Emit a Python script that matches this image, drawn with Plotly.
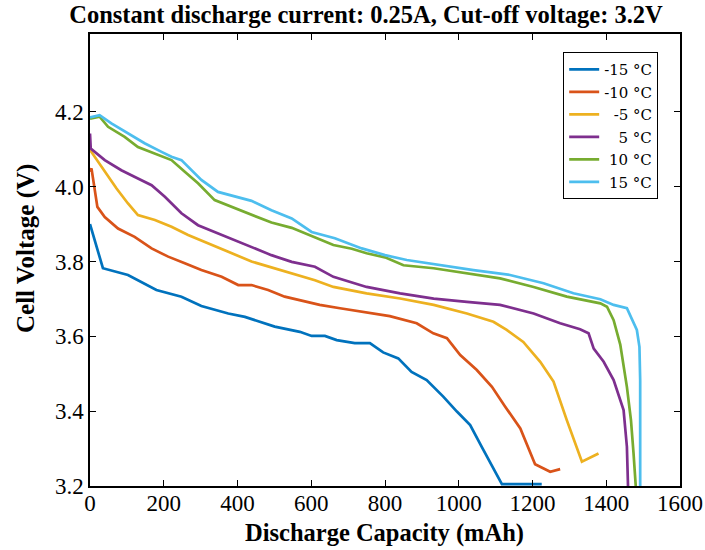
import plotly.graph_objects as go

# -15 °C
x_m15 = [0, 35, 103, 180, 248, 302, 375, 420, 501, 569, 601, 637, 669, 718, 759, 795, 836, 872, 913, 958, 995, 1031, 1062, 1117, 1225]
y_m15 = [3.900, 3.782, 3.764, 3.724, 3.706, 3.681, 3.661, 3.652, 3.626, 3.612, 3.601, 3.601, 3.590, 3.582, 3.582, 3.557, 3.541, 3.505, 3.483, 3.439, 3.399, 3.363, 3.305, 3.205, 3.205]
# -10 °C
x_m10 = [0, 4, 20, 40, 76, 121, 167, 212, 257, 302, 357, 402, 438, 483, 528, 574, 623, 678, 741, 813, 886, 931, 968, 1004, 1049, 1090, 1126, 1167, 1207, 1248, 1275]
y_m10 = [4.040, 4.049, 3.946, 3.919, 3.888, 3.866, 3.835, 3.813, 3.795, 3.777, 3.759, 3.737, 3.737, 3.724, 3.706, 3.695, 3.684, 3.675, 3.666, 3.654, 3.635, 3.608, 3.595, 3.550, 3.510, 3.465, 3.412, 3.354, 3.258, 3.238, 3.245]
# -5 °C
x_m5 = [0, 31, 72, 103, 130, 176, 221, 266, 320, 375, 438, 492, 547, 610, 660, 750, 841, 932, 1022, 1094, 1130, 1175, 1221, 1257, 1293, 1334, 1379]
y_m5 = [4.098, 4.053, 3.995, 3.955, 3.924, 3.911, 3.893, 3.871, 3.848, 3.826, 3.800, 3.784, 3.768, 3.750, 3.732, 3.715, 3.701, 3.684, 3.661, 3.639, 3.617, 3.585, 3.532, 3.479, 3.376, 3.265, 3.287]
# 5 °C
x_p5 = [0, 2, 40, 85, 130, 167, 203, 248, 293, 347, 393, 438, 492, 547, 610, 660, 750, 841, 932, 1022, 1112, 1203, 1275, 1329, 1352, 1366, 1393, 1420, 1447, 1456, 1459]
y_p5 = [4.142, 4.102, 4.071, 4.044, 4.022, 4.004, 3.973, 3.929, 3.897, 3.875, 3.857, 3.839, 3.817, 3.799, 3.786, 3.759, 3.732, 3.715, 3.701, 3.692, 3.684, 3.661, 3.635, 3.619, 3.608, 3.567, 3.532, 3.483, 3.403, 3.305, 3.200]
# 10 °C
x_p10 = [0, 26, 49, 94, 130, 176, 221, 257, 293, 338, 393, 438, 492, 547, 610, 660, 710, 750, 800, 850, 932, 1022, 1112, 1203, 1293, 1384, 1402, 1420, 1438, 1456, 1467, 1474, 1480]
y_p10 = [4.182, 4.187, 4.160, 4.133, 4.106, 4.089, 4.071, 4.040, 4.009, 3.964, 3.942, 3.924, 3.904, 3.890, 3.864, 3.844, 3.834, 3.822, 3.811, 3.790, 3.782, 3.768, 3.755, 3.732, 3.706, 3.688, 3.679, 3.643, 3.578, 3.465, 3.376, 3.287, 3.200]
# 15 °C
x_p15 = [0, 26, 58, 103, 148, 194, 221, 248, 275, 302, 347, 393, 438, 492, 547, 601, 664, 737, 800, 859, 949, 1040, 1139, 1230, 1311, 1384, 1420, 1456, 1483, 1490, 1492, 1492]
y_p15 = [4.185, 4.191, 4.169, 4.142, 4.116, 4.093, 4.080, 4.071, 4.044, 4.018, 3.986, 3.973, 3.962, 3.937, 3.915, 3.879, 3.862, 3.835, 3.817, 3.804, 3.790, 3.777, 3.764, 3.742, 3.715, 3.699, 3.684, 3.675, 3.617, 3.572, 3.483, 3.200]

series_names = ["-15 °C", "-10 °C", "\u2007-5 °C", "\u2008\u20075 °C", "\u200810 °C", "\u200815 °C"]
series_x = [x_m15, x_m10, x_m5, x_p5, x_p10, x_p15]
series_y = [y_m15, y_m10, y_m5, y_p5, y_p10, y_p15]
colors = ["#0072BD", "#D95319", "#EDB120", "#7E2F8E", "#77AC30", "#4DBEEE"]

x_ticks = [0, 200, 400, 600, 800, 1000, 1200, 1400, 1600]
y_ticks = [3.2, 3.4, 3.6, 3.8, 4.0, 4.2]

FONT = "Liberation Serif"

# plot-area geometry in pixels (for placing the outer text)
L, R, T, B = 90, 25, 34, 64
PW, PH = 705 - L - R, 550 - T - B

fig = go.Figure()
for name, xs, ys, c in zip(series_names, series_x, series_y, colors):
    fig.add_trace(go.Scatter(x=xs, y=ys, mode="lines", name=name,
                             line=dict(color=c, width=2.7)))

axis_common = dict(showline=True, linecolor="black", linewidth=1.5, mirror="ticks",
                   ticks="inside", ticklen=6, tickwidth=1.2, tickcolor="black",
                   showgrid=False, zeroline=False, automargin=False,
                   ticklabeloverflow="allow",
                   tickfont=dict(family=FONT, size=23, color="black"))

fig.update_layout(
    width=705, height=550,
    paper_bgcolor="white", plot_bgcolor="white",
    margin=dict(l=L, r=R, t=T, b=B, autoexpand=False),
    title=dict(text="<b>Constant discharge current: 0.25A, Cut-off voltage: 3.2V</b>",
               x=366/705, xanchor="center", y=1 - 14/550, yanchor="middle",
               font=dict(family=FONT, size=24.5, color="black")),
    xaxis=dict(range=[0, 1600], tickvals=x_ticks, ticktext=[str(v) for v in x_ticks],
               ticklabelstandoff=-4, **axis_common),
    yaxis=dict(range=[3.2, 4.408], tickvals=y_ticks, ticktext=[f"{v:.1f}" for v in y_ticks],
               **axis_common),
    annotations=[
        dict(text="<b>Cell Voltage (V)</b>", textangle=-90,
             xref="paper", yref="paper",
             x=(26 - L) / PW, y=(550 - B - 249) / PH,
             xanchor="center", yanchor="middle", showarrow=False,
             font=dict(family=FONT, size=25, color="black")),
        dict(text="<b>Discharge Capacity (mAh)</b>",
             xref="paper", yref="paper",
             x=(384 - L) / PW, y=(550 - B - 533) / PH,
             xanchor="center", yanchor="middle", showarrow=False,
             font=dict(family=FONT, size=24.5, color="black")),
    ],
    legend=dict(x=0.802, y=0.96, xanchor="left", yanchor="top",
                bgcolor="white", bordercolor="black", borderwidth=1,
                font=dict(family="DejaVu Serif", size=15, color="black"),
                tracegroupgap=0, itemwidth=30),
    showlegend=True,
)

fig.write_html("out.html")
